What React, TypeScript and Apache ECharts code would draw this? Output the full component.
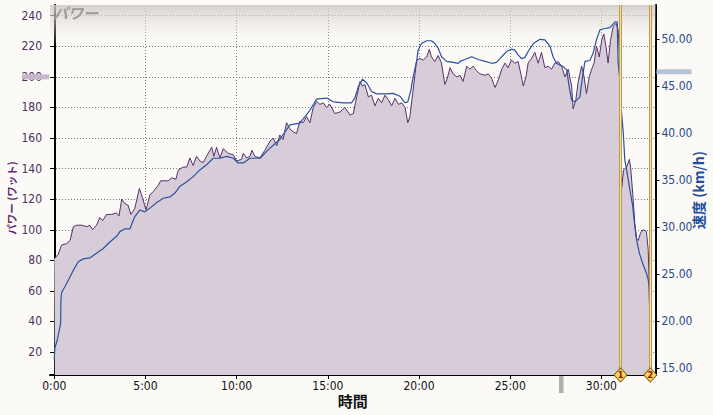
import { useEffect, useRef } from 'react';
import * as echarts from 'echarts';

// power (W), time in seconds
const powerSec = [
  0, 2, 13, 24, 41, 52, 63, 74, 90, 107,
  117, 126, 139, 150, 159, 172, 189, 205, 213, 222,
  233, 243, 252, 265, 280, 287, 302, 315, 326, 342,
  350, 364, 375, 386, 400, 408, 424, 436, 446, 457,
  468, 479, 490, 501, 518, 525, 534, 545, 556, 572,
  589, 600, 616, 622, 633, 644, 650, 660, 677, 693,
  710, 720, 732, 742, 753, 764, 775, 786, 797, 808,
  819, 830, 841, 852, 863, 874, 885, 896, 907, 923,
  940, 956, 973, 984, 995, 1006, 1014, 1022, 1033, 1044,
  1055, 1066, 1077, 1088, 1099, 1110, 1121, 1132, 1143, 1154,
  1163, 1170, 1179, 1187, 1192, 1203, 1214, 1225, 1234, 1241,
  1252, 1263, 1274, 1285, 1293, 1302, 1312, 1324, 1335, 1345,
  1357, 1367, 1378, 1389, 1400, 1417, 1428, 1439, 1450, 1461,
  1472, 1483, 1493, 1504, 1515, 1526, 1535, 1543, 1552, 1559,
  1570, 1581, 1592, 1603, 1614, 1625, 1636, 1647, 1658, 1669,
  1680, 1691, 1702, 1707, 1716, 1724, 1735, 1743, 1751, 1760,
  1768, 1776, 1784, 1793, 1801, 1808, 1815, 1822, 1830, 1839,
  1848, 1855, 1861, 1864, 1867, 1873, 1883, 1892, 1896, 1903,
  1910, 1916, 1921, 1929, 1937, 1948, 1954, 1957, 1961,
];
const powerW = [
  81, 81, 84, 90, 91, 93, 102, 103, 103, 102,
  103, 100, 103, 108, 106, 110, 110, 111, 109, 120,
  117, 116, 110, 114, 127, 123, 113, 123, 125, 129,
  132, 132, 132, 134, 133, 139, 141, 141, 147, 142,
  148, 145, 144, 148, 154, 148, 154, 147, 153, 150,
  149, 145, 146, 150, 147, 148, 152, 148, 147, 152,
  158, 160, 155, 162, 159, 170, 166, 164, 163, 171,
  170, 174, 170, 180, 184, 182, 183, 180, 182, 176,
  177, 180, 175, 176, 187, 197, 194, 195, 187, 188,
  181, 186, 183, 188, 185, 181, 186, 182, 183, 180,
  170, 174, 189, 202, 211, 212, 211, 213, 218, 213,
  210, 214, 209, 195, 199, 206, 202, 200, 201, 197,
  207, 205, 207, 204, 202, 201, 202, 199, 193, 198,
  205, 209, 206, 211, 209, 210, 202, 194, 200, 209,
  212, 216, 209, 216, 206, 207, 205, 209, 210, 207,
  200, 205, 194, 179, 185, 197, 207, 200, 189, 200,
  205, 209, 220, 213, 224, 228, 220, 209, 224, 233,
  235, 231, 211, 180, 128, 139, 141, 146, 141, 124,
  104, 94, 93, 98, 100, 99, 87, 67, 18,
];

// speed (km/h)
const speedSec = [
  0, 2, 10, 19, 21, 22, 24, 41, 63, 79,
  95, 117, 139, 161, 183, 205, 216, 233, 249, 265,
  282, 298, 315, 337, 359, 381, 397, 413, 436, 457,
  479, 501, 523, 545, 567, 589, 605, 622, 644, 677,
  710, 742, 775, 808, 841, 863, 896, 918, 951, 978,
  989, 1000, 1014, 1028, 1044, 1061, 1093, 1115, 1137, 1154,
  1163, 1173, 1181, 1192, 1197, 1208, 1225, 1241, 1252, 1263,
  1274, 1291, 1312, 1329, 1335, 1351, 1373, 1395, 1417, 1439,
  1455, 1472, 1488, 1504, 1515, 1526, 1537, 1548, 1559, 1576,
  1598, 1614, 1631, 1641, 1652, 1674, 1686, 1694, 1702, 1713,
  1729, 1738, 1746, 1762, 1773, 1784, 1795, 1811, 1828, 1845,
  1852, 1855, 1861, 1863, 1872, 1877, 1883, 1894, 1903, 1910,
  1916, 1925, 1936, 1948, 1954, 1957, 1959,
];
const speedKmh = [
  15.9, 17.1, 18, 19.4, 19.8, 22.2, 23, 24, 25.4, 26.3,
  26.6, 26.7, 27.2, 27.7, 28.4, 29, 29.5, 29.8, 29.8, 31.1,
  31.8, 31.6, 32, 32.6, 33.05, 33.2, 33.6, 34.3, 34.8, 35.35,
  36.06, 36.6, 37.3, 37.3, 37.5, 37.3, 36.8, 36.8, 37.3, 37.3,
  38.4, 39.3, 40.85, 41.03, 42.4, 43.6, 43.7, 43.3, 43.2, 43.2,
  43.7, 44.9, 45.7, 45.3, 44.4, 44.15, 44.15, 44.2, 43.9, 43.2,
  43.3, 44.5, 46, 47.6, 48.8, 49.5, 49.8, 49.8, 49.5, 49,
  48.1, 47.6, 47.5, 47.4, 47.6, 47.8, 48.1, 47.8, 47.6, 47.4,
  47.5, 48.1, 48.65, 48.9, 48.8, 48.3, 47.9, 48, 48.65, 49.5,
  49.95, 49.9, 49.2, 48.1, 47.4, 47.05, 46.7, 44.9, 43.5, 43.3,
  43.8, 46, 47.6, 47.7, 48.5, 49.9, 50.96, 51.1, 51.2, 51.8,
  51.8, 47.5, 45.6, 43.5, 40, 37.1, 36.06, 33.9, 32.2, 30,
  28.6, 27.2, 26.1, 25.1, 24.4, 23.65, 20.8,
];

// lap markers
const lapSec = [1863, 1961];
const lapLabels = ['1', '2'];

// small indicator bars on the axes
const powerMark = 200;
const speedMark = 46.5;
const timeMark = 1668;

const timeRange = [-14, 1978];
const powerRange = [5, 247];
const speedRange = [14.25, 53.6];

const NUM_FONT = '"Liberation Sans Narrow", "DejaVu Sans Condensed", "Liberation Sans", sans-serif';
const JP_FONT = '"Noto Sans CJK JP", sans-serif';

const fmtTime = (v: number) => `${Math.floor(v / 60)}:${String(Math.round(v % 60)).padStart(2, '0')}`;

const gridLine = { show: true, showMinLine: false, showMaxLine: false, lineStyle: { color: '#7a7a7a', type: [1, 2], width: 1 } };

export default function App() {
  const ref = useRef<HTMLDivElement>(null);

  useEffect(() => {
    document.body.style.margin = '0';
    const chart = echarts.init(ref.current!, null, { renderer: 'svg' });

    chart.setOption({
      animation: false,
      backgroundColor: '#fcfaf6',
      grid: { left: 50, right: 57.5, top: 5, bottom: 40, containLabel: false, outerBoundsMode: 'none' },
      xAxis: {
        type: 'value',
        min: timeRange[0],
        max: timeRange[1],
        minInterval: 300,
        maxInterval: 300,
        name: '時間',
        nameLocation: 'middle',
        nameGap: 18,
        nameMoveOverlap: false,
        nameTextStyle: { color: '#111', fontWeight: 'bold', fontSize: 15, fontFamily: JP_FONT },
        axisLine: { lineStyle: { color: '#000', width: 2 } },
        axisTick: { show: true, length: 4, lineStyle: { color: '#000' } },
        axisLabel: {
          color: '#111', fontSize: 12, fontFamily: NUM_FONT, margin: 5,
          showMinLabel: false, showMaxLabel: false, formatter: fmtTime,
        },
        splitLine: gridLine,
      },
      yAxis: [
        {
          type: 'value',
          position: 'left',
          min: powerRange[0],
          max: powerRange[1],
          minInterval: 20,
          maxInterval: 20,
          name: 'パワー (ワット)',
          nameLocation: 'middle',
          nameRotate: 90,
          nameGap: 33,
          nameMoveOverlap: false,
          nameTextStyle: { color: '#5a2a72', fontWeight: 'bold', fontSize: 10.5, fontFamily: JP_FONT, padding: [0, 16, 0, 0] },
          axisLine: { show: true, lineStyle: { color: '#000', width: 2 } },
          axisTick: { show: true, length: 4, lineStyle: { color: '#000' } },
          axisLabel: {
            color: '#4c2f63', fontSize: 12, fontFamily: NUM_FONT, margin: 8,
            showMinLabel: false, showMaxLabel: false,
          },
          splitLine: gridLine,
        },
        {
          type: 'value',
          position: 'right',
          min: speedRange[0],
          max: speedRange[1],
          minInterval: 5,
          maxInterval: 5,
          name: '速度 (km/h)',
          nameLocation: 'middle',
          nameRotate: 90,
          nameGap: 35,
          nameMoveOverlap: false,
          nameTextStyle: { color: '#1f4e9a', fontWeight: 'bold', fontSize: 14, fontFamily: JP_FONT },
          axisLine: { show: true, lineStyle: { color: '#000', width: 2 } },
          axisTick: { show: true, length: 4, lineStyle: { color: '#000' } },
          axisLabel: {
            color: '#1f4b8c', fontSize: 12, fontFamily: NUM_FONT, margin: 6,
            showMinLabel: false, showMaxLabel: false,
            formatter: (v: number) => v.toFixed(2),
          },
          splitLine: { show: false },
        },
      ],
      series: [
        {
          name: 'パワー',
          type: 'line',
          yAxisIndex: 0,
          data: powerSec.map((t, i) => [t, powerW[i]]),
          symbol: 'none',
          lineStyle: { color: '#58306c', width: 1 },
          areaStyle: { color: '#d7cdd8', opacity: 1, origin: 'start' },
          z: 2,
        },
        {
          name: '速度',
          type: 'line',
          yAxisIndex: 1,
          data: speedSec.map((t, i) => [t, speedKmh[i]]),
          symbol: 'none',
          lineStyle: { color: '#2a52a0', width: 1.2 },
          z: 3,
          markLine: {
            silent: true,
            symbol: 'none',
            label: { show: false },
            lineStyle: { color: '#c09a4a', width: 3, type: 'solid' },
            data: lapSec.map((t) => ({ xAxis: t })),
          },
        },
        {
          name: 'lap',
          type: 'scatter',
          yAxisIndex: 0,
          data: lapSec.map((t) => [t, powerRange[0]]),
          symbol: 'diamond',
          symbolSize: [13, 14],
          clip: false,
          itemStyle: { color: '#f7d850', borderColor: '#7a5a20', borderWidth: 1, opacity: 1 },
          label: {
            show: true, position: 'inside', color: '#8a1010', fontSize: 9, fontWeight: 'bold',
            fontFamily: NUM_FONT, formatter: (p: any) => lapLabels[p.dataIndex],
          },
          z: 5,
          markLine: {
            silent: true,
            symbol: 'none',
            label: { show: false },
            lineStyle: { color: '#f3e2a6', width: 1, type: 'solid' },
            data: lapSec.map((t) => ({ xAxis: t })),
          },
        },
      ],
    });

    const yP = chart.convertToPixel({ yAxisIndex: 0 }, powerMark) as number;
    const yS = chart.convertToPixel({ yAxisIndex: 1 }, speedMark) as number;
    const xT = chart.convertToPixel({ xAxisIndex: 0 }, timeMark) as number;
    const top = chart.convertToPixel({ yAxisIndex: 0 }, powerRange[1]) as number;
    const bottom = chart.convertToPixel({ yAxisIndex: 0 }, powerRange[0]) as number;
    const left = chart.convertToPixel({ xAxisIndex: 0 }, timeRange[0]) as number;
    const right = chart.convertToPixel({ xAxisIndex: 0 }, timeRange[1]) as number;

    chart.setOption({
      graphic: [
        {
          type: 'rect',
          z: 1,
          silent: true,
          shape: { x: left, y: top, width: right - left, height: 42 },
          style: {
            fill: new echarts.graphic.LinearGradient(0, 0, 0, 1, [
              { offset: 0, color: 'rgba(205,201,197,0.85)' },
              { offset: 1, color: 'rgba(252,250,246,0)' },
            ]),
          },
        },
        {
          type: 'text',
          z: 10,
          x: left + 3,
          y: top,
          style: { text: 'パワー', fill: '#a09c9c', font: `italic bold 15px ${JP_FONT}` },
        },
        { type: 'rect', z: 10, shape: { x: 22, y: yP - 2.5, width: left - 23, height: 5 }, style: { fill: '#c6b6ca' } },
        { type: 'rect', z: 10, shape: { x: right + 1, y: yS - 2.5, width: 35, height: 5 }, style: { fill: '#b6c5d6' } },
        { type: 'rect', z: 10, shape: { x: xT - 2.25, y: bottom + 1, width: 4.5, height: 17 }, style: { fill: '#b0b0aa' } },
      ],
    });

    return () => chart.dispose();
  }, []);

  return <div ref={ref} style={{ width: 713, height: 415 }} />;
}
